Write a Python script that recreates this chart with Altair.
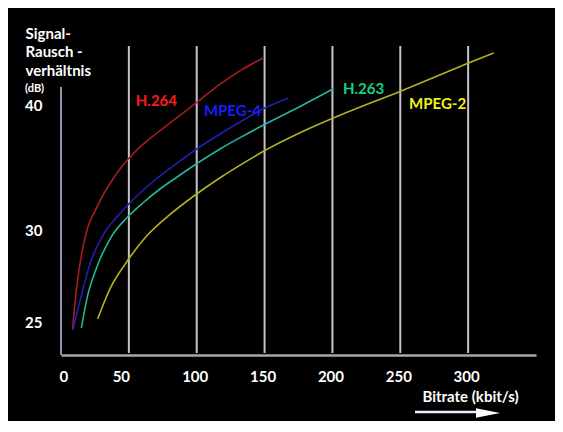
import altair as alt
import pandas as pd

# ---- data ----
series_names = ["H.264", "MPEG-4", "H.263", "MPEG-2"]

h264_x = [8.5, 10.5, 13.0, 16.0, 20.0, 25.0, 30.0, 36.0, 45.0, 55.0, 70.0, 85.0, 100.0, 117.0, 133.0, 149.0]
h264_y = [24.6, 26.2, 27.7, 29.0, 30.3, 31.5, 32.6, 33.7, 35.1, 36.3, 37.7, 38.95, 40.2, 41.65, 42.8, 43.75]

mpeg4_x = [8.85, 14.2, 21.6, 31.2, 41.3, 51.1, 59.7, 68.1, 85.5, 100.3, 117.5, 134.4, 149.2, 167.6]
mpeg4_y = [24.57, 26.2, 28.2, 29.75, 31.05, 32.2, 33.1, 33.9, 35.35, 36.5, 37.7, 38.8, 39.7, 40.55]

h263_x = [15.0, 19.2, 26.5, 36.4, 48.7, 60.7, 73.2, 85.0, 101.3, 117.5, 133.0, 149.2, 176.5, 200.8]
h263_y = [24.67, 26.3, 28.0, 29.55, 31.0, 32.2, 33.3, 34.2, 35.4, 36.5, 37.45, 38.4, 39.9, 41.3]

mpeg2_x = [27.0, 36.4, 48.7, 63.4, 78.2, 97.6, 117.5, 134.4, 149.2, 176.5, 206.0, 250.2, 299.4, 318.8]
mpeg2_y = [25.16, 26.85, 28.3, 29.7, 31.05, 32.7, 34.2, 35.35, 36.3, 37.8, 39.2, 41.1, 43.3, 44.14]

x_ticks = [0, 50, 100, 150, 200, 250, 300]
y_ticks = [25, 30, 40]
grid_x = [50, 100, 150, 200, 250, 300]

label_x = [70.3, 126.3, 222.9, 277.5]
label_y = [40.32, 39.52, 41.24, 40.08]

line_colors = ["#a81c1e", "#2020b0", "#22b69a", "#b4b020"]
text_colors = ["#ff1c1c", "#1c1cff", "#18d08c", "#f2f216"]

# ---- tables ----
rows = []
for name, xs, ys in zip(series_names, [h264_x, mpeg4_x, h263_x, mpeg2_x],
                        [h264_y, mpeg4_y, h263_y, mpeg2_y]):
    for i, (a, b) in enumerate(zip(xs, ys)):
        rows.append({"series": name, "x": a, "y": b, "order": i})
lines_df = pd.DataFrame(rows)
labels_df = pd.DataFrame({"series": series_names, "x": label_x, "y": label_y})
grid_df = pd.DataFrame({"x": grid_x})
one_df = pd.DataFrame({"a": [0]})

W, H = 475, 309
FONT = "Lato"

xscale = alt.Scale(domain=[0, 350], range=[0, W], nice=False, zero=False)
yscale = alt.Scale(domain=[23.2, 25, 30, 40, 44.7], range=[309, 276, 184, 59, 0],
                   nice=False, zero=False)

x_axis = alt.Axis(values=x_ticks, grid=False, ticks=False, tickSize=0,
                  domainColor="#a8a8a8", domainWidth=2.5,
                  labelColor="white", labelFont=FONT, labelFontSize=15,
                  labelFontWeight="bold", labelPadding=21, labelBaseline="middle",
                  labelOffset={"condition": {"test": "datum.value === 50", "value": -8}, "value": -2},
                  title="Bitrate (kbit/s)", titleColor="white", titleFont=FONT,
                  titleFontSize=15, titleFontWeight="bold", titleX=409, titleY=41,
                  titleAlign="center", titleBaseline="middle")
y_axis = alt.Axis(values=y_ticks, grid=False, ticks=False, tickSize=0, domain=False,
                  labelColor="white", labelFont=FONT, labelFontSize=15,
                  labelFontWeight="bold", labelPadding=19, labelBaseline="middle",
                  title=["Signal-", "Rausch -", "verhältnis"], titleColor="white",
                  titleFont=FONT, titleFontSize=15, titleFontWeight="bold",
                  titleAngle=0, titleAlign="left", titleBaseline="alphabetic",
                  titleX=-36, titleY=-8, titleLineHeight=18.5)

grid = alt.Chart(grid_df).mark_rule(color="#c4c4cc", strokeWidth=2).encode(
    x=alt.X("x:Q", scale=xscale, axis=x_axis),
    y=alt.value(0), y2=alt.value(307))

yline = alt.Chart(one_df).mark_rule(color="#9090a8", strokeWidth=2).encode(
    x=alt.datum(0, scale=xscale, axis=x_axis),
    y=alt.datum(41.44, scale=yscale, axis=y_axis),
    y2=alt.value(H))

curves = alt.Chart(lines_df).mark_line(strokeWidth=1.6, interpolate="monotone").encode(
    x=alt.X("x:Q", scale=xscale, axis=x_axis),
    y=alt.Y("y:Q", scale=yscale, axis=y_axis),
    stroke=alt.Stroke("series:N", scale=alt.Scale(domain=series_names, range=line_colors), legend=None),
    order="order:Q")

labels = alt.Chart(labels_df).mark_text(font=FONT, fontSize=15, fontWeight="bold").encode(
    x=alt.X("x:Q", scale=xscale, axis=x_axis),
    y=alt.Y("y:Q", scale=yscale, axis=y_axis),
    text="series:N",
    fill=alt.Fill("series:N", scale=alt.Scale(domain=series_names, range=text_colors), legend=None))

db = alt.Chart(one_df).mark_text(text="(dB)", font=FONT, fontSize=11, fontWeight="bold",
                                 color="white", align="left", baseline="middle").encode(
    x=alt.value(-36), y=alt.value(43))

arrow_line = alt.Chart(one_df).mark_rule(color="#eeeeff", strokeWidth=2.5).encode(
    x=alt.value(354), x2=alt.value(418), y=alt.value(366))
arrow_head = alt.Chart(one_df).mark_point(shape="M-1,-0.4L1,0L-1,0.4Z", filled=True,
                                          size=576, color="#ffffff", opacity=1).encode(
    x=alt.value(427), y=alt.value(367))

chart = alt.layer(grid, yline, curves, labels, db, arrow_line, arrow_head).properties(
    width=W, height=H,
    padding={"left": 53, "top": 38, "right": 19, "bottom": 66},
    autosize=alt.AutoSizeParams(type="none"),
    background="black",
).configure_view(stroke=None)

chart.save("out.html", embed_options={"renderer": "svg", "actions": False})
